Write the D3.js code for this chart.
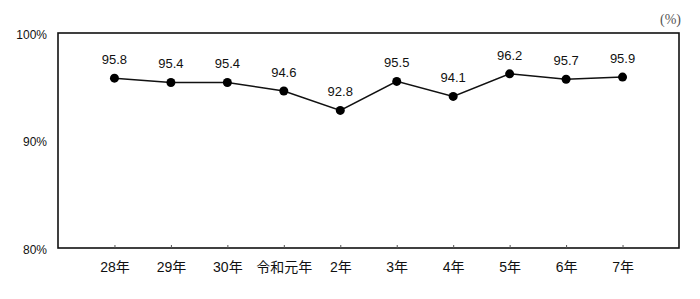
<!DOCTYPE html>
<html>
<head>
<meta charset="utf-8">
<script src="https://cdn.jsdelivr.net/npm/d3@7"></script>
<style>
  body { margin: 0; background: #fff; }
  text { font-family: "Liberation Sans", Arial, "Noto Sans CJK JP", sans-serif; fill: #111; }
</style>
</head>
<body>
<svg id="chart" width="700" height="299"></svg>
<script>
const years = ["28年", "29年", "30年", "令和元年", "2年", "3年", "4年", "5年", "6年", "7年"]
const rates = [95.8, 95.4, 95.4, 94.6, 92.8, 95.5, 94.1, 96.2, 95.7, 95.9]
const yTicks = [80, 90, 100]

const svg = d3.select("#chart")
const plotLeft = 58, plotRight = 679, plotTop = 33, plotBottom = 248

const x = d3.scalePoint().domain(years).range([plotLeft, plotRight]).padding(1)
const y = d3.scaleLinear().domain([80, 100]).range([plotBottom, plotTop])

// plot frame
svg.append("rect")
    .attr("x", plotLeft).attr("y", plotTop)
    .attr("width", plotRight - plotLeft).attr("height", plotBottom - plotTop)
    .attr("fill", "none").attr("stroke", "#111").attr("stroke-width", 1.6)

// x axis ticks and labels
const xAxis = svg.append("g")
    .attr("transform", `translate(0,${plotBottom})`)
    .call(d3.axisBottom(x).tickSize(-3).tickPadding(14))
xAxis.select(".domain").remove()
xAxis.selectAll(".tick line").attr("stroke", "#555").attr("stroke-width", 1)
xAxis.selectAll(".tick text")
    .attr("font-size", 14)
    .attr("fill", "#111")

// y axis labels
const yAxis = svg.append("g")
    .attr("transform", `translate(${plotLeft},0)`)
    .call(d3.axisLeft(y).tickValues(yTicks).tickSize(0).tickPadding(11).tickFormat(d => d + "%"))
yAxis.select(".domain").remove()
yAxis.selectAll(".tick text")
    .attr("font-size", 12)
    .attr("fill", "#111")
    .attr("dy", "0.45em")

// unit label
svg.append("text")
    .attr("x", plotRight + 2).attr("y", 24)
    .attr("text-anchor", "end")
    .attr("font-size", 14)
    .style("fill", "#555")
    .style("font-family", "'Liberation Serif', serif")
    .text("(%)")

// line
const line = d3.line()
    .x((d, i) => x(years[i]))
    .y(d => y(d))
svg.append("path")
    .datum(rates)
    .attr("d", line)
    .attr("fill", "none")
    .attr("stroke", "#111")
    .attr("stroke-width", 1.5)

// points
svg.append("g")
    .selectAll("circle")
    .data(rates)
    .enter()
    .append("circle")
    .attr("cx", (d, i) => x(years[i]))
    .attr("cy", d => y(d))
    .attr("r", 4.5)
    .attr("fill", "#000")

// value labels
svg.append("g")
    .selectAll("text")
    .data(rates)
    .enter()
    .append("text")
    .attr("x", (d, i) => x(years[i]))
    .attr("y", d => y(d) - 14)
    .attr("text-anchor", "middle")
    .attr("font-size", 13)
    .text(d => d.toFixed(1))
</script>
</body>
</html>
